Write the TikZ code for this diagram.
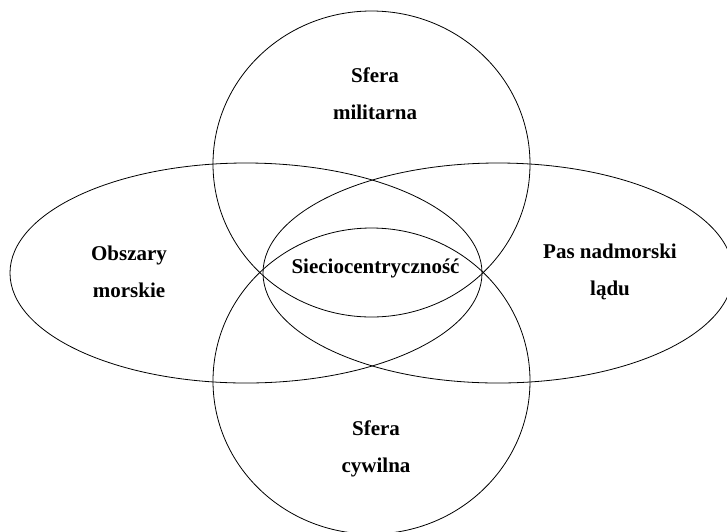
\documentclass[tikz,border=0pt]{standalone}
\usepackage{fontspec}
\setmainfont{Liberation Serif}
\usetikzlibrary{shapes.geometric}
\begin{document}
\begin{tikzpicture}[x=1pt,y=-1pt,
  area/.style={draw=black, line width=0.8pt, ellipse, inner sep=0pt, fill=none},
  lbl/.style={font=\fontsize{21}{37}\selectfont\bfseries, align=center, inner sep=0pt}]
\path[use as bounding box, clip] (0,0) rectangle (727,531);
\node[area, minimum width=317pt, minimum height=306pt] (mil) at (371.5,164) {};
\node[area, minimum width=317pt, minimum height=306pt] (cyw) at (371.5,381) {};
\node[area, minimum width=472pt, minimum height=220pt] (mor) at (246,273) {};
\node[area, minimum width=470pt, minimum height=220pt] (lad) at (498,273) {};
\node[lbl] (tmil) at (375,93.5) {Sfera\\militarna};
\node[lbl] (tcyw) at (376,449) {Sfera\\cywilna};
\node[lbl] (tmor) at (129,271.5) {Obszary\\morskie};
\node[lbl] (tlad) at (610,271.5) {Pas nadmorski\\lądu};
\node[lbl] (tsie) at (375.5,268) {Sieciocentryczność};
\end{tikzpicture}
\end{document}
